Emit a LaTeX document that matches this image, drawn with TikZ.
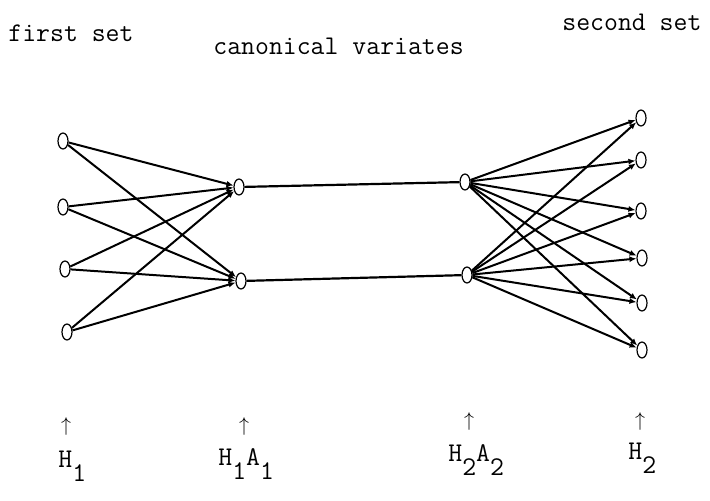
\documentclass[tikz,border=0pt]{standalone}
\usepackage{tikz}
\usetikzlibrary{shapes,arrows,arrows.meta,positioning,calc,shapes.geometric}

\newcommand{\lowsub}[1]{\raisebox{-1.2ex}{#1}}

\begin{document}
\begin{tikzpicture}[
  x=0.5pt, y=-0.5pt,
  var/.style={ellipse, draw, fill=white, line width=0.6pt, minimum width=5pt, minimum height=8pt, inner sep=0pt},
  label/.style={font=\fontsize{13.5}{15}\ttfamily, inner sep=0pt},
  edge/.style={line width=1.1pt},
  arrow/.style={-{Latex[length=3.5pt,width=3pt]}, line width=1pt}
]
\useasboundingbox (0,0) rectangle (710,500);

% Titles
\node[label, anchor=west] (first) at (8,33) {first set};
\node[label, anchor=west] (second) at (562,22) {second set};
\node[label, anchor=west] (canon) at (213,46) {canonical variates};

% First set
\node[var] (x1) at (63,141) {};
\node[var] (x2) at (63,207) {};
\node[var] (x3) at (65,269) {};
\node[var] (x4) at (67,332) {};

% Canonical variates
\node[var] (u1) at (239,187) {};
\node[var] (u2) at (241,281) {};
\node[var] (v1) at (465,182) {};
\node[var] (v2) at (467,275) {};

% Second set
\node[var] (y1) at (641,118) {};
\node[var] (y2) at (641,160) {};
\node[var] (y3) at (641,211) {};
\node[var] (y4) at (642,258) {};
\node[var] (y5) at (642,303) {};
\node[var] (y6) at (642,350) {};

% Connections
\foreach \i in {1,...,4}
  \foreach \j in {1,2}
    \draw[arrow] (x\i) -- (u\j);
\foreach \i in {1,...,6}
  \foreach \j in {1,2}
    \draw[arrow] (v\j) -- (y\i);
\draw[edge] (u1) -- (v1);
\draw[edge] (u2) -- (v2);

% Matrices
\node[inner sep=0pt] (up1) at (66,426) {$\uparrow$};
\node[inner sep=0pt] (up2) at (244,426) {$\uparrow$};
\node[inner sep=0pt] (up3) at (469,421) {$\uparrow$};
\node[inner sep=0pt] (up4) at (640,421) {$\uparrow$};

\node[label, anchor=west] (h1) at (58,466) {H\lowsub{1}};
\node[label, anchor=west] (h1a1) at (218,464) {H\lowsub{1}A\lowsub{1}};
\node[label, anchor=west] (h2a2) at (448,460) {H\lowsub{2}A\lowsub{2}};
\node[label, anchor=west] (h2) at (628,458) {H\lowsub{2}};

\end{tikzpicture}
\end{document}
